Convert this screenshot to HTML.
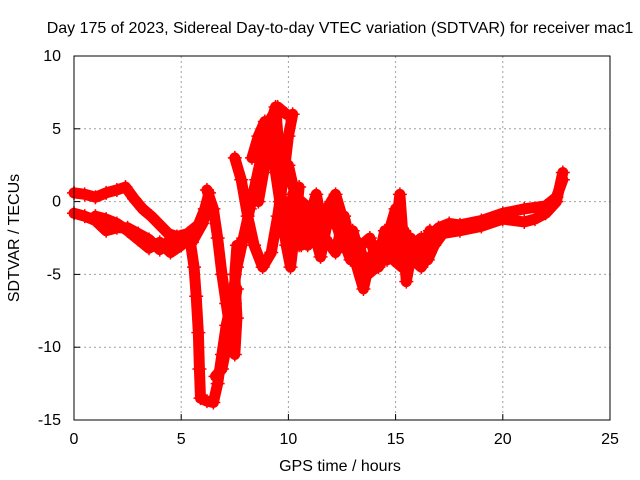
<!DOCTYPE html>
<html><head><meta charset="utf-8"><style>
body{margin:0;background:#fff}
svg{display:block;font-family:"Liberation Sans",sans-serif;font-size:16px}
</style></head><body>
<svg id="chart" width="640" height="480">
<rect x="0" y="0" width="640" height="480" fill="#fff"/>
<g id="grid"></g>
<g id="series"></g>
<g id="axes"></g>
<text x="340" y="33" text-anchor="middle">Day 175 of 2023, Sidereal Day-to-day VTEC variation (SDTVAR) for receiver mac1</text>
<text x="340" y="471" text-anchor="middle">GPS time / hours</text>
<text transform="translate(19,238) rotate(-90)" text-anchor="middle">SDTVAR / TECUs</text>
</svg>
<script>
const xTicks=[0,5,10,15,20,25];
const yTicks=[10,5,0,-5,-10,-15];
const trackA=[[0,0.6],[0.5,0.5],[1,0.3],[1.5,0.6],[2,0.8],[2.4,1],[2.8,0.2],[3.2,-0.5],[3.6,-1],[4,-1.6],[4.4,-2.2],[4.8,-2.4],[5.3,-2.2],[5.8,-1.6],[6.1,-0.5],[6.3,0.6]];
const trackB=[[0,-0.8],[0.5,-1],[1,-1.3],[1.5,-2],[2,-1.8],[2.5,-1.8],[3,-2.2],[3.5,-2.6],[4,-3.3],[4.5,-2.6],[5,-2.4],[5.5,-2.8],[6,-1.5],[6.2,-0.5]];
const trackB2=[[1,-1],[1.5,-1.2],[2,-1.5],[2.5,-2],[3,-2.6],[3.5,-3.2],[4,-2.8],[4.5,-3.5],[5,-3],[5.4,-2.4]];
const trackC=[[5.4,-2.5],[5.6,-4.5],[5.7,-6.5],[5.8,-9],[5.85,-11.5],[5.9,-13.5],[6.2,-13.7],[6.5,-13.8],[6.7,-12.5],[6.9,-10.5],[7.1,-8.5],[7.4,-6.5],[7.6,-4.5],[7.9,-2.5],[8.2,-0.5],[8.5,1.5],[8.8,3.5],[9.1,5.5],[9.5,6.5],[9.9,6]];
const trackD=[[6.2,0.8],[6.5,-0.5],[6.7,-2.5],[6.9,-5],[7.1,-7],[7.3,-9],[7.5,-10.5],[7.6,-8],[7.5,-5],[7.6,-3]];
const trackD2=[[6.6,-12],[6.9,-11.5],[7.1,-10],[7.3,-8.5],[7.5,-7],[7.6,-6]];
const trackE=[[7.5,3],[7.8,1.5],[8.1,-1],[8.4,-3],[8.8,-4.5],[9.2,-3.5],[9.5,-1],[9.8,2],[10,4.5],[10.2,6]];
const trackF=[[8.6,0],[8.9,2.5],[9.1,5],[9.4,6.5],[9.6,3],[9.7,-1],[9.9,-3],[10.1,-4.5],[10.3,-2],[10.5,1]];
const trackF2=[[8.3,3],[8.6,4.5],[8.9,5.5],[9.2,4],[9.4,2],[9.6,0],[9.8,-1.5],[10,0],[10.3,-1.5],[10.6,-3]];
const trackG=[[10,-1],[10.5,-3],[11,-1],[11.5,-3.8],[12,0],[12.5,-3],[13,-2],[13.5,-4.5],[14,-3.5],[14.5,-3],[15,-0.5],[15.3,-3.8],[15.6,-3],[16,-3.2],[16.5,-2.6],[17,-1.8],[17.5,-1.5],[18,-1.6],[19,-1.3],[20,-0.8],[21,-0.5],[22,-0.3],[22.5,0.3],[22.8,1.5]];
const trackH=[[10,2.5],[10.3,0.5],[10.8,-2],[11.3,0.5],[11.7,-2.5],[12.2,-3.5],[12.6,-1],[13,-3.5],[13.5,-6],[13.8,-4],[14.2,-3],[14.6,-4],[15,-2],[15.2,0.5],[15.5,-5.5],[15.8,-3],[16.2,-2.5],[16.5,-4],[16.8,-3],[17.2,-2.2],[18,-2],[19,-1.7],[20,-1.2],[21,-1.4],[21.5,-1.2],[22,-0.8],[22.5,0],[22.8,2]];
const trackI=[[10.4,-0.5],[10.9,-3],[11.4,-2],[11.9,-1],[12.4,-2],[12.9,-4],[13.3,-3],[13.7,-5],[14.1,-4.5],[14.5,-2],[14.9,-4],[15.3,-4.5],[15.7,-2.5],[16.1,-3.8],[16.6,-2]];
const trackJ=[[10.2,0.5],[10.6,0],[11,-0.5],[11.4,-1.5],[11.8,-0.5],[12.2,0.5],[12.6,-1.5],[13,-2.5],[13.4,-3],[13.8,-2.5],[14.2,-4.5],[14.6,-3.5],[15,-3],[15.4,-2],[15.8,-4],[16.2,-4.5],[16.6,-3.5],[17,-2.5]];
const tracks=[trackA,trackB,trackB2,trackC,trackD,trackD2,trackE,trackF,trackF2,trackG,trackH,trackI,trackJ];
const NS="http://www.w3.org/2000/svg";
const X0=74,X1=610,Y0=420,Y1=56;
function sx(h){return X0+(h-0)/(25-0)*(X1-X0);}
function sy(v){return Y0-(v+15)/(10+15)*(Y0-Y1);}
function mk(tag,attrs,parent){const e=document.createElementNS(NS,tag);for(const k in attrs)e.setAttribute(k,attrs[k]);parent.appendChild(e);return e;}
const grid=document.getElementById('grid'),axes=document.getElementById('axes'),ser=document.getElementById('series');
xTicks.forEach(t=>{
 if(t>0&&t<25){const l=mk('line',{x1:sx(t),x2:sx(t),y1:Y1,y2:Y0,stroke:'#a0a0a0','stroke-dasharray':'2,3'},grid);
 
 }
 const tk=mk('line',{x1:sx(t),x2:sx(t),y1:Y0,y2:Y0-6,stroke:'#000'},axes);
 
 
 const tx=mk('text',{x:sx(t),y:Y0+24,'text-anchor':'middle'},axes);tx.textContent=t;
 
 
});
yTicks.forEach(t=>{
 if(t>-15&&t<10){const l=mk('line',{x1:X0,x2:X1,y1:sy(t),y2:sy(t),stroke:'#a0a0a0','stroke-dasharray':'2,3'},grid);
 
 }
 const tk=mk('line',{x1:X0,x2:X0+6,y1:sy(t),y2:sy(t),stroke:'#000'},axes);
 
 
 const tx=mk('text',{x:X0-13,y:sy(t)+5,'text-anchor':'end'},axes);tx.textContent=t;
 
 
});
const fr=mk('rect',{x:X0,y:Y1,width:X1-X0,height:Y0-Y1,fill:'none',stroke:'#000'},axes);


tracks.forEach(tr=>{
 const pts=tr.map(p=>sx(p[0])+','+sy(p[1])).join(' ');
 const pl=mk('polyline',{points:pts,fill:'none',stroke:'#ff0000','stroke-width':11,'stroke-linejoin':'round','stroke-linecap':'round'},ser);
 
 
 tr.forEach(p=>{
  const m=mk('path',{d:`M${sx(p[0])-7},${sy(p[1])}h14M${sx(p[0])},${sy(p[1])-7}v14`,stroke:'#ff0000','stroke-width':1.5},ser);
  
  
 });
});
</script>
</body></html>
